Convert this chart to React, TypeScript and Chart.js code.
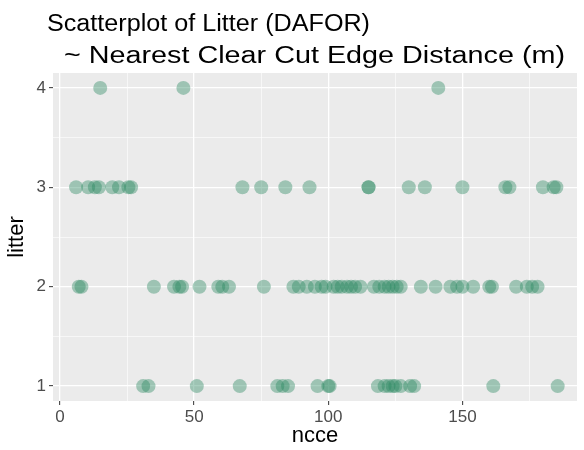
import React, { useEffect, useRef } from "react";
import { Chart, registerables } from "chart.js";

Chart.register(...registerables);

const titleLines = ["Scatterplot of Litter (DAFOR)", "~ Nearest Clear Cut Edge Distance (m)"];
const xAxisTitle = "ncce";
const yAxisTitle = "litter";
const xTicks = [0, 25, 50, 75, 100, 125, 150, 175];
const yTicks = [1, 1.5, 2, 2.5, 3, 3.5, 4];

const litter1Ncce = [31, 33, 51, 67, 81, 83, 85, 96, 100, 100.5, 118.5, 121, 122.5, 124, 125, 127, 130.5, 132, 161.5, 185.5];
const litter2Ncce = [7, 8, 35, 42.5, 44.5, 45.5, 52, 59, 60.5, 63, 76, 87, 89, 92, 95, 97.5, 99, 102, 103.5, 105, 107, 108.5, 110, 112, 117, 119, 121, 122.5, 124, 125.5, 127, 134.5, 140, 145.5, 148, 150, 154, 160, 161, 170, 174, 176, 178];
const litter3Ncce = [6, 10.5, 13, 14.5, 19.5, 22, 25.5, 26.5, 68, 75, 84, 93, 115, 115, 130, 136, 150, 166, 167.5, 180, 184, 185];
const litter4Ncce = [15, 46, 141];

const FONT = "'Liberation Sans', Arial, Helvetica, sans-serif";

// title line layout: [left x, baseline y, drawn width]
const titleLayout = [
  [47, 31, 323],
  [64, 63, 501],
];

export default function App() {
  const ref = useRef<HTMLCanvasElement | null>(null);

  useEffect(() => {
    document.body.style.margin = "0";
    const canvas = ref.current;
    if (!canvas) return;

    const points: { x: number; y: number }[] = [];
    [litter1Ncce, litter2Ncce, litter3Ncce, litter4Ncce].forEach((arr, i) => {
      arr.forEach((v) => points.push({ x: v, y: i + 1 }));
    });

    const bgPlugin = {
      id: "panelBg",
      beforeDraw(chart: any) {
        const { ctx, chartArea } = chart;
        ctx.save();
        ctx.fillStyle = "#EBEBEB";
        ctx.fillRect(chartArea.left, chartArea.top, chartArea.right - chartArea.left, chartArea.bottom - chartArea.top);
        ctx.restore();
      },
    };

    const titlePlugin = {
      id: "twoLineTitle",
      afterDraw(chart: any) {
        const { ctx } = chart;
        titleLines.forEach((line, i) => {
          const [x, y, w] = titleLayout[i];
          ctx.save();
          ctx.fillStyle = "#000000";
          ctx.font = `23px ${FONT}`;
          ctx.textBaseline = "alphabetic";
          ctx.textAlign = "left";
          const measured = ctx.measureText(line).width;
          ctx.translate(x, y);
          ctx.scale(w / measured, 1);
          ctx.fillText(line, 0, 0);
          ctx.restore();
        });
      },
    };

    const chart = new Chart(canvas, {
      type: "scatter",
      data: {
        datasets: [
          {
            data: points,
            backgroundColor: "rgba(40,135,95,0.4)",
            borderWidth: 0,
            pointRadius: 7,
            pointHoverRadius: 7,
          },
        ],
      },
      options: {
        responsive: false,
        animation: false,
        events: [],
        layout: { padding: { top: 73, right: 1, left: 0, bottom: 0 } },
        plugins: {
          legend: { display: false },
          tooltip: { enabled: false },
          title: { display: false },
        },
        scales: {
          x: {
            type: "linear",
            min: -2.6,
            max: 192.7,
            afterBuildTicks: (scale: any) => {
              scale.ticks = xTicks.map((v) => ({ value: v }));
            },
            afterFit: (scale: any) => {
              scale.height = 49;
            },
            border: { display: false },
            grid: {
              color: "#FFFFFF",
              lineWidth: (c: any) => (c.tick && c.tick.value % 50 === 0 ? 1.3 : 0.6),
              tickColor: (c: any) => (c.tick && c.tick.value % 50 === 0 ? "#333333" : "rgba(0,0,0,0)"),
              tickLength: 4,
              tickWidth: 1,
            },
            ticks: {
              autoSkip: false,
              maxRotation: 0,
              padding: 2,
              color: "#4D4D4D",
              font: { family: FONT, size: 17 },
              callback: (v: any) => (Number(v) % 50 === 0 ? String(v) : ""),
            },
            title: {
              display: true,
              text: xAxisTitle,
              color: "#000000",
              font: { family: FONT, size: 22 },
              padding: { top: 0, bottom: 1 },
            },
          },
          y: {
            type: "linear",
            min: 0.85,
            max: 4.15,
            afterBuildTicks: (scale: any) => {
              scale.ticks = yTicks.map((v) => ({ value: v }));
            },
            afterFit: (scale: any) => {
              scale.width = 53;
            },
            border: { display: false },
            grid: {
              color: "#FFFFFF",
              lineWidth: (c: any) => (c.tick && Number.isInteger(c.tick.value) ? 1.3 : 0.6),
              tickColor: (c: any) => (c.tick && Number.isInteger(c.tick.value) ? "#333333" : "rgba(0,0,0,0)"),
              tickLength: 4,
              tickWidth: 1,
            },
            ticks: {
              autoSkip: false,
              padding: 3,
              color: "#4D4D4D",
              font: { family: FONT, size: 17 },
              callback: (v: any) => (Number.isInteger(Number(v)) ? String(v) : ""),
            },
            title: {
              display: true,
              text: yAxisTitle,
              color: "#000000",
              font: { family: FONT, size: 22 },
              padding: { top: 4, bottom: 0 },
            },
          },
        },
      },
      plugins: [bgPlugin, titlePlugin],
    } as any);

    return () => {
      chart.destroy();
    };
  }, []);

  return (
    <div style={{ width: 584, height: 450 }}>
      <canvas ref={ref} width={584} height={450} style={{ display: "block" }} />
    </div>
  );
}
